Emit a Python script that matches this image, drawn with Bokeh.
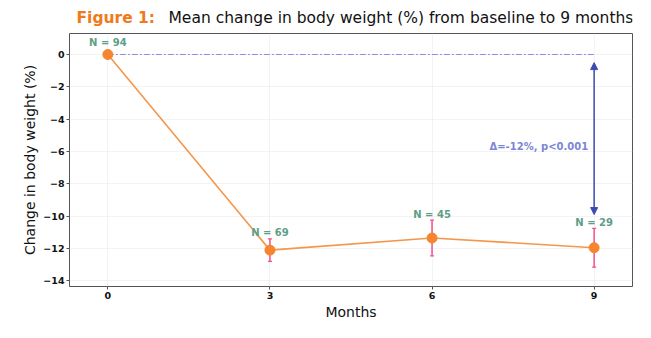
from bokeh.plotting import figure
from bokeh.models import (ColumnDataSource, Label, Arrow, NormalHead, Whisker, TeeHead,
                          FixedTicker, Range1d)
from bokeh.layouts import column
from bokeh.core.properties import value
from bokeh.embed import file_html
from bokeh.resources import INLINE

months = [0, 3, 6, 9]
mean_change = [0.0, -12.1, -11.35, -11.95]
sem = [0.0, 0.7, 1.1, 1.2]
n_labels = ["N = 94", "N = 69", "N = 45", "N = 29"]
y_ticks = [0, -2, -4, -6, -8, -10, -12, -14]
delta_text = "Δ=-12%, p<0.001"
title_prefix = "Figure 1:"
title_text = "Mean change in body weight (%) from baseline to 9 months"

FONT = "DejaVu Sans"
W = 635
LEFT = 69     # frame left (canvas px)
RIGHT_B = 3   # border right
TH = 30       # title strip height

# ---- title strip (frame is aligned with the main frame by the column layout) ----
t = figure(width=W, height=TH, output_backend="svg", toolbar_location=None,
           x_range=Range1d(LEFT, W - RIGHT_B), y_range=Range1d(0, TH),
           min_border_left=LEFT, min_border_right=RIGHT_B, min_border_top=0, min_border_bottom=0)
t.axis.visible = False
t.grid.visible = False
t.outline_line_color = None
t.text(x=[76], y=[TH - 17], text=[title_prefix], text_align="left", text_baseline="middle",
       text_color="#f07a1a", text_font=value(FONT), text_font_style="bold",
       text_font_size="15.5px")
t.text(x=[168], y=[TH - 17], text=[title_text], text_align="left", text_baseline="middle",
       text_color="#111111", text_font=value(FONT), text_font_style="normal",
       text_font_size="15.5px")

# ---- main plot ----
p = figure(width=W, height=322 - TH, output_backend="svg", toolbar_location=None,
           x_range=(-0.71, 9.71), y_range=(-14.35, 1.3),
           min_border_left=LEFT, min_border_top=3, min_border_right=RIGHT_B, min_border_bottom=0)
p.background_fill_color = "white"
p.outline_line_color = "#555555"
p.outline_line_width = 1

for ax in (p.xaxis[0], p.yaxis[0]):
    ax.major_label_text_font = FONT
    ax.major_label_text_font_style = "bold"
    ax.major_label_text_font_size = "9.5px"
    ax.major_label_text_color = "#111111"
    ax.axis_label_text_font = FONT
    ax.axis_label_text_font_style = "normal"
    ax.axis_label_text_font_size = "14px"
    ax.axis_label_text_color = "#111111"
    ax.minor_tick_line_color = None
    ax.major_tick_in = 0
    ax.major_tick_out = 3
    ax.major_tick_line_color = "#555555"
    ax.axis_line_color = None
    ax.major_label_standoff = 2
    ax.axis_label_standoff = 2

p.xaxis.ticker = FixedTicker(ticks=months)
p.yaxis.ticker = FixedTicker(ticks=y_ticks)
p.xaxis.axis_label = "Months"
p.yaxis.axis_label = "Change in body weight (%)"

p.xgrid.grid_line_color = "#ebebeb"
p.ygrid.grid_line_color = "#ebebeb"
p.xgrid.grid_line_width = 0.6
p.ygrid.grid_line_width = 0.6

upper = [m + s for m, s in zip(mean_change, sem)]
lower = [m - s for m, s in zip(mean_change, sem)]
label_y = [max(u, m + 0.35) for u, m in zip(upper, mean_change)]
src = ColumnDataSource(dict(x=months, y=mean_change, upper=upper, lower=lower,
                            lab=n_labels, ly=label_y))

# baseline reference line from first to last month
p.line(x=[months[0], months[-1]], y=[mean_change[0], mean_change[0]],
       line_color="#8c8ce6", line_dash="6 2 2 2", line_width=1.2)

p.line(x="x", y="y", source=src, line_color="#f5964a", line_width=1.6)

eb = Whisker(base="x", upper="upper", lower="lower", source=src,
             line_color="#f0508c", line_width=1.5,
             upper_head=TeeHead(size=4, line_color="#f0508c", line_width=1.2),
             lower_head=TeeHead(size=4, line_color="#f0508c", line_width=1.2))
p.add_layout(eb)

p.scatter(x="x", y="y", source=src, size=10, fill_color="#f5862f",
          line_color="#f5862f", marker="circle")

p.text(x="x", y="ly", text="lab", source=src, text_align="center",
       text_baseline="middle", y_offset=-6, text_color="#5e9e86",
       text_font=value(FONT), text_font_style="bold", text_font_size="10px")

# delta arrow
p.add_layout(Arrow(x_start=months[-1], y_start=-9.9, x_end=months[-1], y_end=-0.5,
                   line_color="#3b4bb0", line_width=1.5,
                   start=NormalHead(size=7, fill_color="#3b4bb0", line_color="#3b4bb0"),
                   end=NormalHead(size=7, fill_color="#3b4bb0", line_color="#3b4bb0")))
p.add_layout(Label(x=months[-1], y=-5.67, x_offset=-6, text=delta_text,
                   text_align="right", text_baseline="middle",
                   text_color="#7b86d6", text_font=FONT, text_font_style="bold",
                   text_font_size="10px"))

layout = column(t, p, spacing=0)
open("out.html", "w").write(file_html(layout, INLINE))
